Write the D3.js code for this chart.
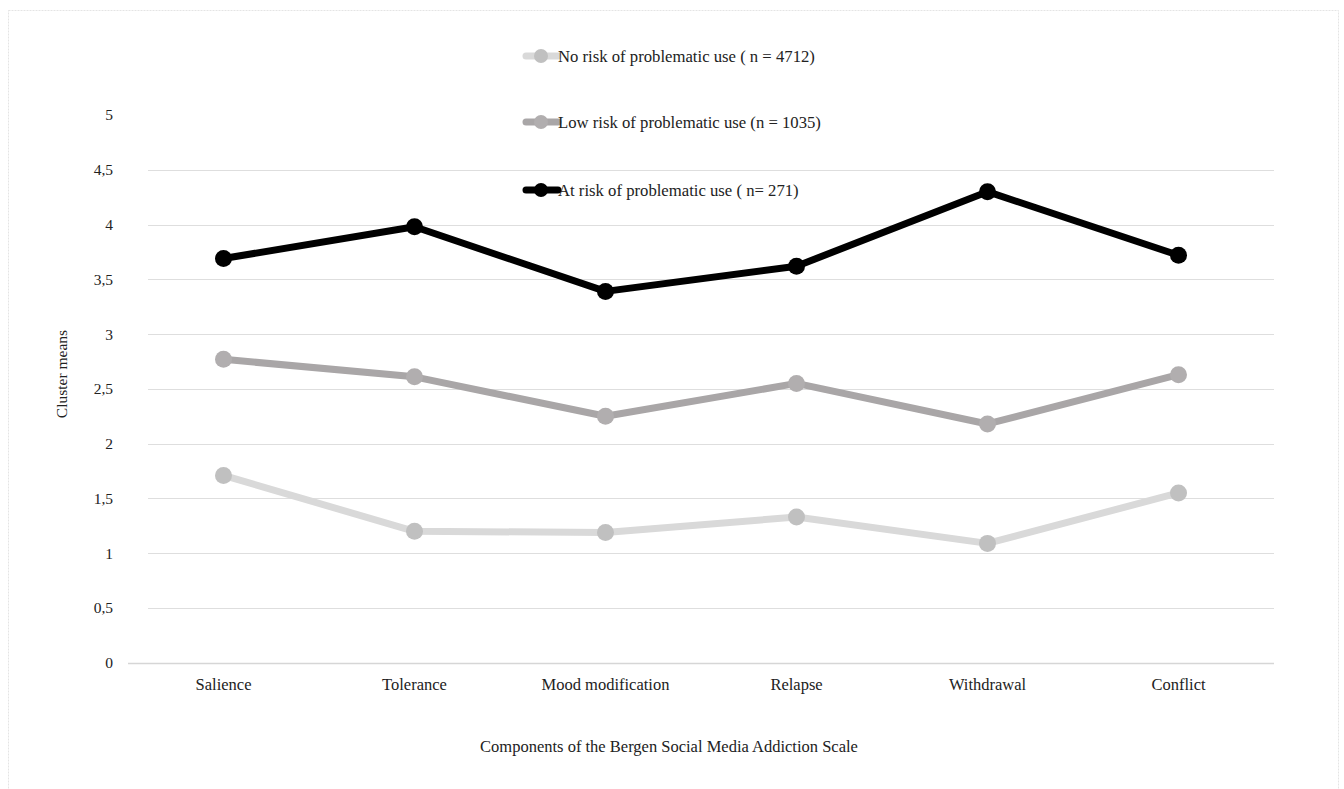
<!DOCTYPE html>
<html>
<head>
<meta charset="utf-8">
<script src="https://cdn.jsdelivr.net/npm/d3@7"></script>
<style>
  html, body { margin: 0; padding: 0; background: #fff; }
  svg { display: block; font-family: "Liberation Serif", "Times New Roman", serif; }
</style>
</head>
<body>
<svg id="chart" width="1344" height="789"></svg>
<script>
// Components of the BSMAS
const categories = ["Salience", "Tolerance", "Mood modification", "Relapse", "Withdrawal", "Conflict"];

// Cluster means per component
const noRisk  = [1.71, 1.20, 1.19, 1.33, 1.09, 1.55];
const lowRisk = [2.77, 2.61, 2.25, 2.55, 2.18, 2.63];
const atRisk  = [3.69, 3.98, 3.39, 3.62, 4.30, 3.72];

const seriesNames = [
  "No risk of problematic use ( n = 4712)",
  "Low risk of problematic use (n = 1035)",
  "At risk of problematic use ( n= 271)"
];

const yTicks = [0, 0.5, 1, 1.5, 2, 2.5, 3, 3.5, 4, 4.5, 5];
const yTickLabels = ["0", "0,5", "1", "1,5", "2", "2,5", "3", "3,5", "4", "4,5", "5"];

const series = [
  { name: seriesNames[0], values: noRisk,  line: "#d9d9d9", marker: "#c0c0c0" },
  { name: seriesNames[1], values: lowRisk, line: "#a9a6a7", marker: "#b1aeaf" },
  { name: seriesNames[2], values: atRisk,  line: "#000000", marker: "#000000" }
];

const svg = d3.select("#chart");
const FONT = "Liberation Serif, Times New Roman, serif";

// faint outer frame
svg.append("rect")
  .attr("x", 8.5).attr("y", 10.5)
  .attr("width", 1330).attr("height", 790)
  .attr("fill", "none")
  .attr("stroke", "#e4e4e4")
  .attr("stroke-width", 1)
  .attr("stroke-dasharray", "2,1");

const x = d3.scaleBand().domain(categories).range([128, 1274]);
const y = d3.scaleLinear().domain([0, 5]).range([662.8, 115]);

// horizontal gridlines (no line at the top tick)
svg.append("g")
  .selectAll("line")
  .data(yTicks.filter(t => t > 0 && t < 5))
  .join("line")
  .attr("x1", 148).attr("x2", 1274)
  .attr("y1", d => Math.round(y(d)) + 0.5)
  .attr("y2", d => Math.round(y(d)) + 0.5)
  .attr("stroke", "#dedede")
  .attr("stroke-width", 1.2);

// baseline
svg.append("line")
  .attr("x1", 128).attr("x2", 1274)
  .attr("y1", Math.round(y(0)) + 0.5).attr("y2", Math.round(y(0)) + 0.5)
  .attr("stroke", "#d6d6d6")
  .attr("stroke-width", 1.4);

// y axis labels
const yAxis = d3.axisLeft(y)
  .tickValues(yTicks)
  .tickFormat((d, i) => yTickLabels[i])
  .tickSize(0)
  .tickPadding(0);
const yg = svg.append("g").attr("transform", "translate(113,0)").call(yAxis);
yg.attr("font-family", FONT);
yg.select(".domain").remove();
yg.selectAll("text")
  .attr("font-size", 15.5)
  .attr("fill", "#222");

// x axis labels
const xAxis = d3.axisBottom(x).tickSize(0).tickPadding(0);
const xg = svg.append("g").attr("transform", "translate(0,678)").call(xAxis);
xg.attr("font-family", FONT);
xg.select(".domain").remove();
xg.selectAll("text")
  .attr("font-size", 16.5)
  .attr("fill", "#222");

// axis titles
svg.append("text")
  .attr("transform", "translate(67,374) rotate(-90)")
  .attr("text-anchor", "middle")
  .attr("font-size", 15.5)
  .attr("fill", "#222")
  .text("Cluster means");

svg.append("text")
  .attr("x", 669).attr("y", 752)
  .attr("text-anchor", "middle")
  .attr("font-size", 16.5)
  .attr("fill", "#222")
  .text("Components of the Bergen Social Media Addiction Scale");

// lines and markers
const line = d3.line()
  .x((d, i) => x(categories[i]) + x.bandwidth() / 2)
  .y(d => y(d));

series.forEach(s => {
  const g = svg.append("g");
  g.append("path")
    .datum(s.values)
    .attr("d", line)
    .attr("fill", "none")
    .attr("stroke", s.line)
    .attr("stroke-width", 7)
    .attr("stroke-linejoin", "round");
  g.selectAll("circle")
    .data(s.values)
    .join("circle")
    .attr("cx", (d, i) => x(categories[i]) + x.bandwidth() / 2)
    .attr("cy", d => y(d))
    .attr("r", 8.5)
    .attr("fill", s.marker);
});

// legend
const legendY = [56, 122, 190];
const lg = svg.append("g");
series.forEach((s, i) => {
  const row = lg.append("g").attr("transform", `translate(0,${legendY[i]})`);
  row.append("line")
    .attr("x1", 526).attr("x2", 558)
    .attr("y1", 0).attr("y2", 0)
    .attr("stroke", s.line)
    .attr("stroke-width", 7)
    .attr("stroke-linecap", "round");
  row.append("circle")
    .attr("cx", 541).attr("cy", 0).attr("r", 7)
    .attr("fill", s.marker);
  row.append("text")
    .attr("x", 558).attr("y", 5.5)
    .attr("font-size", 16.7)
    .attr("fill", "#222")
    .text(s.name);
});
</script>
</body>
</html>
